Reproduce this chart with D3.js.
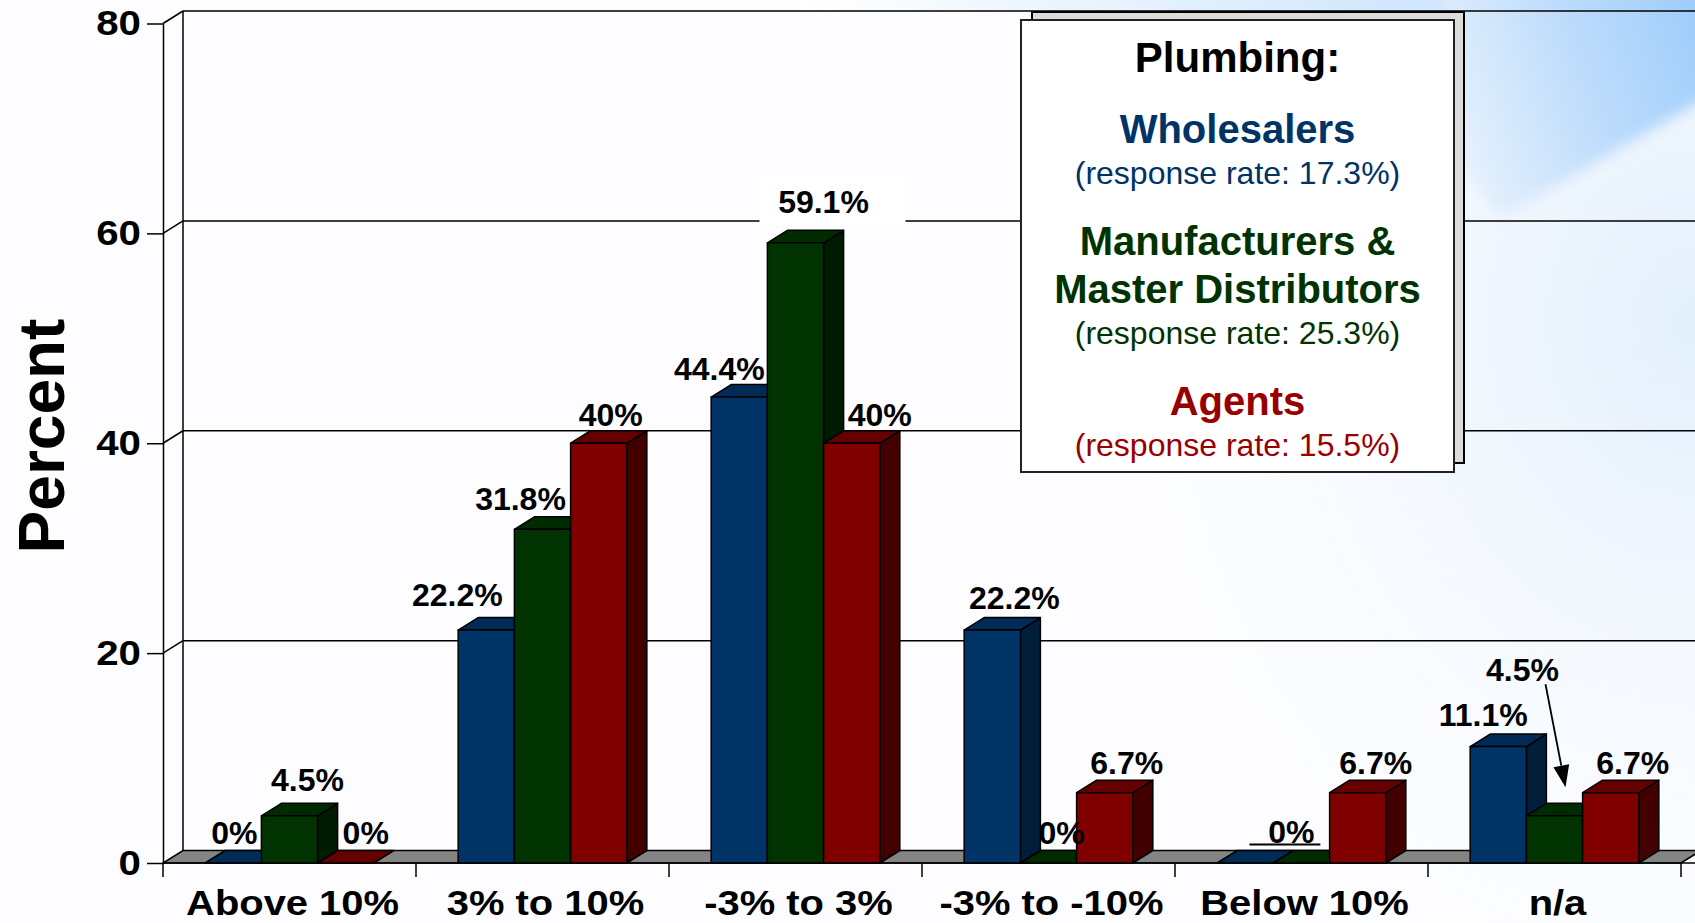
<!DOCTYPE html>
<html>
<head>
<meta charset="utf-8">
<script src="https://cdn.jsdelivr.net/npm/d3@7"></script>
<style>
  html, body { margin: 0; padding: 0; background: #fff; overflow: hidden; }
  svg { display: block; font-family: "Liberation Sans", Arial, sans-serif; }
</style>
</head>
<body>
<div id="chart"></div>
<script>
// --- data ---
const categories = ["Above 10%", "3% to 10%", "-3% to 3%", "-3% to -10%", "Below 10%", "n/a"];
const seriesNames = ["Wholesalers", "Manufacturers & Master Distributors", "Agents"];
const wholesalers = [0, 22.2, 44.4, 22.2, 0, 11.1];
const manufacturers = [4.5, 31.8, 59.1, 0, 0, 4.5];
const agents = [0, 40, 40, 6.7, 6.7, 6.7];
const yTicks = [0, 20, 40, 60, 80];
const responseRates = ["17.3%", "25.3%", "15.5%"];
const legendTitle = "Plumbing:";
const legendNameLines = [["Wholesalers"], ["Manufacturers &", "Master Distributors"], ["Agents"]];

const seriesValues = [wholesalers, manufacturers, agents];

// --- layout / style ---
const width = 1695, height = 923;
const DX = 20, DY = 12.5;            // 3d depth offset
const colors = [
  { front: "#003366", top: "#002b56", side: "#001d3a", text: "#003366" },
  { front: "#003300", top: "#002b00", side: "#001c00", text: "#003300" },
  { front: "#800000", top: "#660000", side: "#420000", text: "#990000" }
];
// hand placed value labels: [dx from bar centre, dy from back top edge]
const labelNudge = [
  [[-9, -7], [8, -12], [10, -7]],
  [[-39, -12], [-32, -7], [2, -5]],
  [[-30, -5], [18, -17], [18, -5]],
  [[12, -9], [3, -7], [12, -6]],
  [null, null, [8, -6]],
  [[-25, -8], [-42, -122], [12, -6]]
];

const svg = d3.select("#chart").append("svg")
    .attr("width", width)
    .attr("height", height);

// background (slide style soft blue)
const defs = svg.append("defs");
const g1 = defs.append("linearGradient").attr("id", "swoosh")
    .attr("x1", "1").attr("y1", "0.2").attr("x2", "0").attr("y2", "0.5");
g1.append("stop").attr("offset", "0").attr("stop-color", "#9ccbfb");
g1.append("stop").attr("offset", "0.5").attr("stop-color", "#bddcfc");
g1.append("stop").attr("offset", "1").attr("stop-color", "#e6f1fd");
const g2 = defs.append("radialGradient").attr("id", "haze")
    .attr("cx", "1").attr("cy", "0.35").attr("r", "0.9");
g2.append("stop").attr("offset", "0").attr("stop-color", "#e2effc");
g2.append("stop").attr("offset", "1").attr("stop-color", "#ffffff").attr("stop-opacity", 0);
const g3 = defs.append("linearGradient").attr("id", "topband")
    .attr("x1", "0").attr("y1", "0").attr("x2", "1").attr("y2", "0");
g3.append("stop").attr("offset", "0").attr("stop-color", "#ffffff");
g3.append("stop").attr("offset", "1").attr("stop-color", "#bcdcfc");
defs.append("filter").attr("id", "soft")
    .attr("x", "-20%").attr("y", "-20%").attr("width", "140%").attr("height", "140%")
  .append("feGaussianBlur").attr("stdDeviation", 7);

svg.append("rect").attr("width", width).attr("height", height).attr("fill", "#fdfdff");
svg.append("rect").attr("x", 900).attr("width", width - 900).attr("height", height).attr("fill", "url(#haze)");
svg.append("rect").attr("x", 800).attr("width", width - 800).attr("height", 12).attr("fill", "url(#topband)");
svg.append("path")
    .attr("d", "M1440,-20 L1720,-20 L1720,90 L1500,218 L1462,170 Z")
    .attr("fill", "url(#swoosh)")
    .attr("filter", "url(#soft)");

const x = d3.scaleBand().domain(categories).range([163, 1681]).padding(0);
const xs = d3.scaleBand().domain(d3.range(seriesNames.length))
    .range([0, x.bandwidth()]).paddingInner(0).paddingOuter(0.75);
const y = d3.scaleLinear().domain([0, 80]).range([863, 23.5]);

const x0 = x.range()[0], x1 = x.range()[1];

// back wall: grid lines, wall edge and connectors
const wall = svg.append("g").attr("stroke", "#000").attr("stroke-width", 1.5).attr("fill", "none");
wall.selectAll("line.grid")
  .data(yTicks.filter(t => t > 0))
  .join("line")
    .attr("class", "grid")
    .attr("x1", x0 + DX).attr("x2", width)
    .attr("y1", d => y(d) - DY).attr("y2", d => y(d) - DY);
wall.selectAll("line.conn")
  .data(yTicks.filter(t => t > 0))
  .join("line")
    .attr("class", "conn")
    .attr("x1", x0).attr("y1", d => y(d))
    .attr("x2", x0 + DX).attr("y2", d => y(d) - DY);
wall.append("line")
    .attr("x1", x0 + DX).attr("x2", x0 + DX)
    .attr("y1", y(80) - DY).attr("y2", y(0) - DY);

// floor
svg.append("path")
    .attr("d", `M${x0},${y(0)} L${x1},${y(0)} L${x1 + DX},${y(0) - DY} L${x0 + DX},${y(0) - DY} Z`)
    .attr("fill", "#848484")
    .attr("stroke", "#000")
    .attr("stroke-width", 1.5);

// y axis
const tickSize = 16, tickPad = 6;
const yAxis = svg.append("g")
    .attr("transform", `translate(${x0},0)`)
    .call(d3.axisLeft(y).tickValues(yTicks).tickSize(tickSize).tickSizeOuter(0).tickPadding(tickPad));
yAxis.select(".domain").attr("stroke", "#000").attr("stroke-width", 1.5);
yAxis.selectAll(".tick line").attr("stroke", "#000").attr("stroke-width", 1.5);
yAxis.selectAll(".tick text")
    .attr("x", 0)
    .attr("transform", `translate(${-tickSize - tickPad},0) scale(1.15,1)`)
    .attr("font-family", "'Liberation Sans', Arial, sans-serif")
    .attr("font-size", 35)
    .attr("font-weight", "bold")
    .attr("fill", "#000");

// x axis
const xAxis = svg.append("g").attr("stroke", "#000").attr("stroke-width", 1.5);
xAxis.append("line").attr("x1", x0).attr("x2", width).attr("y1", y(0)).attr("y2", y(0));
xAxis.selectAll("line.tick")
  .data(categories.map(c => x(c)).concat([x1]))
  .join("line")
    .attr("class", "tick")
    .attr("x1", d => d).attr("x2", d => d)
    .attr("y1", y(0)).attr("y2", y(0) + 14);
svg.append("g").selectAll("text")
  .data(categories)
  .join("text")
    .attr("transform", d => `translate(${x(d) + x.bandwidth() / 2 + 3},915) scale(1.14,1)`)
    .attr("text-anchor", "middle")
    .attr("font-size", 35)
    .attr("font-weight", "bold")
    .text(d => d);

// bars (drawn left to right so each front face hides the previous side)
const bars = [];
categories.forEach((c, ci) => {
  seriesValues.forEach((vals, si) => {
    bars.push({ c, ci, si, v: vals[ci], x: x(c) + xs(si), w: xs.bandwidth() });
  });
});

const barG = svg.append("g").attr("stroke", "#000").attr("stroke-width", 1.5).attr("stroke-linejoin", "round");
bars.forEach(b => {
  const g = barG.append("g");
  const yt = y(b.v), yb = y(0);
  const col = colors[b.si];
  if (b.v > 0) {
    g.append("path")
        .attr("d", `M${b.x + b.w},${yt} L${b.x + b.w + DX},${yt - DY} L${b.x + b.w + DX},${yb - DY} L${b.x + b.w},${yb} Z`)
        .attr("fill", col.side);
  }
  g.append("path")
      .attr("d", `M${b.x},${yt} L${b.x + DX},${yt - DY} L${b.x + b.w + DX},${yt - DY} L${b.x + b.w},${yt} Z`)
      .attr("fill", col.top);
  if (b.v > 0) {
    g.append("rect")
        .attr("x", b.x).attr("y", yt)
        .attr("width", b.w).attr("height", yb - yt)
        .attr("fill", col.front);
  }
});

// value labels
const maxVal = d3.max(seriesValues.flat());
const labelG = svg.append("g")
    .attr("font-size", 32)
    .attr("font-weight", "bold")
    .attr("text-anchor", "middle");
bars.forEach(b => {
  const n = labelNudge[b.ci][b.si];
  if (!n) return;
  const cx = b.x + b.w / 2 + DX / 2 + n[0];
  const by = y(b.v) - DY + n[1];
  if (b.v === maxVal) {
    labelG.append("rect")
        .attr("x", cx - 64).attr("y", by - 36)
        .attr("width", 146).attr("height", 48)
        .attr("fill", "#fff");
  }
  labelG.append("text")
      .attr("x", cx).attr("y", by)
      .text(b.v + "%");
  if (b.ci === 5 && b.si === 1) {
    // arrow from label down to the short bar
    const ax = cx + 23, ay = by + 3;
    const tx = b.x + b.w / 2 + DX / 2 + 1, ty = y(b.v) - DY - 16;
    const ang = Math.atan2(ty - ay, tx - ax);
    const hl = 22, hw = 8;
    const bx = tx - hl * Math.cos(ang), bY = ty - hl * Math.sin(ang);
    labelG.append("line")
        .attr("x1", ax).attr("y1", ay).attr("x2", bx).attr("y2", bY)
        .attr("stroke", "#000").attr("stroke-width", 1.8);
    labelG.append("path")
        .attr("d", `M${tx},${ty} L${bx + hw * Math.sin(ang)},${bY - hw * Math.cos(ang)} L${bx - hw * Math.sin(ang)},${bY + hw * Math.cos(ang)} Z`)
        .attr("fill", "#000");
  }
});
// shared zero label for the two empty bars in "Below 10%"
{
  const c = categories[4];
  const cx = x(c) + xs(0) + xs.bandwidth() + DX / 2 + 8;
  const by = y(0) - DY - 8;
  labelG.append("text").attr("x", cx).attr("y", by).text(wholesalers[4] + "%");
  labelG.append("line")
      .attr("x1", cx - 42).attr("x2", cx + 29)
      .attr("y1", by + 2).attr("y2", by + 2)
      .attr("stroke", "#000").attr("stroke-width", 1.8);
}

// legend box
const lg = svg.append("g");
lg.append("rect").attr("x", 1032).attr("y", 12).attr("width", 432).attr("height", 451)
    .attr("fill", "#dcdcdc").attr("stroke", "#000").attr("stroke-width", 2);
lg.append("rect").attr("x", 1021).attr("y", 20).attr("width", 433).attr("height", 452)
    .attr("fill", "#fff").attr("stroke", "#222").attr("stroke-width", 2);
const lcx = 1237.5;
lg.append("text").attr("x", lcx).attr("y", 72).attr("text-anchor", "middle")
    .attr("font-size", 42).attr("font-weight", "bold").attr("fill", "#000").text(legendTitle);
let ly = 72;
legendNameLines.forEach((lines, i) => {
  lines.forEach((t, j) => {
    ly += j === 0 ? 71 : 48;
    lg.append("text").attr("x", lcx).attr("y", ly).attr("text-anchor", "middle")
        .attr("font-size", 40).attr("font-weight", "bold").attr("fill", colors[i].text).text(t);
  });
  ly += 41;
  lg.append("text").attr("x", lcx).attr("y", ly).attr("text-anchor", "middle")
      .attr("font-size", 32).attr("fill", colors[i].text)
      .text(`(response rate: ${responseRates[i]})`);
});

// y axis title
svg.append("text")
    .attr("transform", "translate(64,436) rotate(-90)")
    .attr("text-anchor", "middle")
    .attr("font-size", 64)
    .attr("font-weight", "bold")
    .text("Percent");
</script>
</body>
</html>
